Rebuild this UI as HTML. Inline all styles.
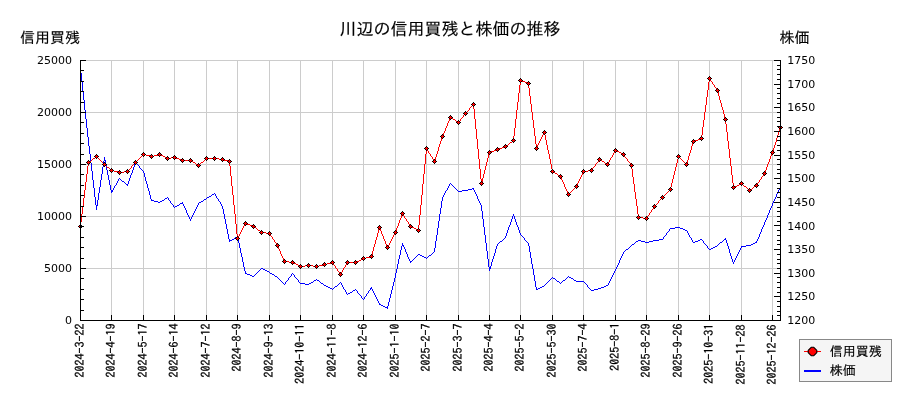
<!DOCTYPE html>
<html lang="ja"><head><meta charset="utf-8"><title>川辺の信用買残と株価の推移</title>
<style>html,body{margin:0;padding:0;background:#fff}svg{display:block}.jp{font-family:"Liberation Sans","IPAGothic","Noto Sans CJK JP",sans-serif;fill:#000;stroke:#000;stroke-width:.15px}.num{font-family:"DejaVu Sans","Liberation Sans",sans-serif;font-size:11px;fill:#000}.xl{font-family:"IPAGothic","Liberation Mono",monospace;font-size:12px;fill:#000;stroke:#000;stroke-width:.25px}</style></head><body>
<svg width="900" height="400" viewBox="0 0 900 400">
<rect x="0" y="0" width="900" height="400" fill="#ffffff"/>
<g stroke="#cccccc" stroke-width="1" shape-rendering="crispEdges">
<line x1="111.5" y1="60" x2="111.5" y2="320"/>
<line x1="143.5" y1="60" x2="143.5" y2="320"/>
<line x1="174.5" y1="60" x2="174.5" y2="320"/>
<line x1="206.5" y1="60" x2="206.5" y2="320"/>
<line x1="237.5" y1="60" x2="237.5" y2="320"/>
<line x1="269.5" y1="60" x2="269.5" y2="320"/>
<line x1="300.5" y1="60" x2="300.5" y2="320"/>
<line x1="332.5" y1="60" x2="332.5" y2="320"/>
<line x1="363.5" y1="60" x2="363.5" y2="320"/>
<line x1="395.5" y1="60" x2="395.5" y2="320"/>
<line x1="426.5" y1="60" x2="426.5" y2="320"/>
<line x1="458.5" y1="60" x2="458.5" y2="320"/>
<line x1="489.5" y1="60" x2="489.5" y2="320"/>
<line x1="520.5" y1="60" x2="520.5" y2="320"/>
<line x1="552.5" y1="60" x2="552.5" y2="320"/>
<line x1="583.5" y1="60" x2="583.5" y2="320"/>
<line x1="615.5" y1="60" x2="615.5" y2="320"/>
<line x1="646.5" y1="60" x2="646.5" y2="320"/>
<line x1="678.5" y1="60" x2="678.5" y2="320"/>
<line x1="709.5" y1="60" x2="709.5" y2="320"/>
<line x1="741.5" y1="60" x2="741.5" y2="320"/>
<line x1="772.5" y1="60" x2="772.5" y2="320"/>
<line x1="80" y1="60.5" x2="780" y2="60.5"/>
<line x1="80" y1="112.5" x2="780" y2="112.5"/>
<line x1="80" y1="164.5" x2="780" y2="164.5"/>
<line x1="80" y1="216.5" x2="780" y2="216.5"/>
<line x1="80" y1="268.5" x2="780" y2="268.5"/>
</g>
<path fill="#0000ff" shape-rendering="crispEdges" d="M80 68h1v5h-1zM81 73h1v9h-1zM82 82h1v9h-1zM83 91h1v9h-1zM84 100h1v10h-1zM85 110h1v9h-1zM86 119h1v9h-1zM87 128h1v9h-1zM88 137h1v9h-1zM89 146h1v8h-1zM90 154h1v9h-1zM91 163h1v8h-1zM92 171h1v9h-1zM93 180h1v8h-1zM94 188h1v9h-1zM95 197h1v8h-1zM96 205h1v5h-1zM97 200h1v6h-1zM98 193h1v7h-1zM99 187h1v6h-1zM100 180h1v7h-1zM101 174h1v6h-1zM102 167h1v7h-1zM103 161h1v6h-1zM104 157h1v4h-1zM105 160h1v5h-1zM106 165h1v5h-1zM107 170h1v5h-1zM108 175h1v5h-1zM109 180h1v5h-1zM110 185h1v5h-1zM111 190h1v3h-1zM112 190h1v2h-1zM113 188h1v2h-1zM114 186h1v2h-1zM116 183h1v2h-1zM117 181h1v2h-1zM118 179h1v2h-1zM127 184h1v2h-1zM128 181h1v3h-1zM129 178h1v3h-1zM130 175h1v3h-1zM131 173h1v2h-1zM132 170h1v3h-1zM133 167h1v3h-1zM134 164h1v3h-1zM135 162h1v2h-1zM139 166h1v2h-1zM143 171h1v2h-1zM144 173h1v4h-1zM145 177h1v4h-1zM146 181h1v3h-1zM147 184h1v4h-1zM148 188h1v3h-1zM149 191h1v4h-1zM150 195h1v4h-1zM151 199h1v2h-1zM168 198h1v2h-1zM170 201h1v2h-1zM173 205h1v2h-1zM182 202h1v2h-1zM183 204h1v2h-1zM184 206h1v2h-1zM185 208h1v2h-1zM186 210h1v3h-1zM187 213h1v2h-1zM188 215h1v2h-1zM189 217h1v2h-1zM190 219h1v2h-1zM191 217h1v2h-1zM192 215h1v2h-1zM193 213h1v2h-1zM194 211h1v2h-1zM195 209h1v2h-1zM196 207h1v2h-1zM197 205h1v2h-1zM198 203h1v2h-1zM215 194h1v2h-1zM216 196h1v2h-1zM218 199h1v2h-1zM220 202h1v2h-1zM221 204h1v2h-1zM222 206h1v3h-1zM223 209h1v5h-1zM224 214h1v5h-1zM225 219h1v5h-1zM226 224h1v5h-1zM227 229h1v5h-1zM228 234h1v5h-1zM229 239h1v3h-1zM237 236h1v3h-1zM238 239h1v4h-1zM239 243h1v5h-1zM240 248h1v5h-1zM241 253h1v4h-1zM242 257h1v5h-1zM243 262h1v5h-1zM244 267h1v4h-1zM245 271h1v3h-1zM285 282h1v2h-1zM288 278h1v2h-1zM291 274h1v2h-1zM294 275h1v2h-1zM298 280h1v2h-1zM341 283h1v2h-1zM342 285h1v2h-1zM343 287h1v2h-1zM345 290h1v2h-1zM346 292h1v2h-1zM357 291h1v2h-1zM361 296h1v2h-1zM364 297h1v2h-1zM366 294h1v2h-1zM368 291h1v2h-1zM370 288h1v2h-1zM371 287h1v2h-1zM372 289h1v2h-1zM373 291h1v2h-1zM374 293h1v2h-1zM375 295h1v2h-1zM376 297h1v2h-1zM377 299h1v2h-1zM378 301h1v2h-1zM379 303h1v2h-1zM387 306h1v3h-1zM388 302h1v4h-1zM389 298h1v4h-1zM390 294h1v4h-1zM391 290h1v4h-1zM392 286h1v4h-1zM393 282h1v4h-1zM394 278h1v4h-1zM395 273h1v5h-1zM396 269h1v4h-1zM397 264h1v5h-1zM398 259h1v5h-1zM399 255h1v4h-1zM400 250h1v5h-1zM401 246h1v4h-1zM402 243h1v3h-1zM403 245h1v2h-1zM404 247h1v2h-1zM405 249h1v3h-1zM406 252h1v2h-1zM407 254h1v3h-1zM408 257h1v2h-1zM409 259h1v2h-1zM410 261h1v2h-1zM434 248h1v4h-1zM435 241h1v7h-1zM436 235h1v6h-1zM437 228h1v7h-1zM438 221h1v7h-1zM439 214h1v7h-1zM440 208h1v6h-1zM441 201h1v7h-1zM442 197h1v4h-1zM443 195h1v2h-1zM444 193h1v2h-1zM445 191h1v2h-1zM447 188h1v2h-1zM448 186h1v2h-1zM449 184h1v2h-1zM473 188h1v2h-1zM474 190h1v2h-1zM475 192h1v2h-1zM476 194h1v2h-1zM477 196h1v3h-1zM478 199h1v2h-1zM479 201h1v2h-1zM480 203h1v2h-1zM481 205h1v6h-1zM482 211h1v8h-1zM483 219h1v8h-1zM484 227h1v8h-1zM485 235h1v8h-1zM486 243h1v8h-1zM487 251h1v8h-1zM488 259h1v8h-1zM489 267h1v4h-1zM490 266h1v3h-1zM491 262h1v4h-1zM492 259h1v3h-1zM493 256h1v3h-1zM494 253h1v3h-1zM495 249h1v4h-1zM496 246h1v3h-1zM497 244h1v2h-1zM505 236h1v2h-1zM506 233h1v3h-1zM507 230h1v3h-1zM508 227h1v3h-1zM509 225h1v2h-1zM510 222h1v3h-1zM511 219h1v3h-1zM512 216h1v3h-1zM513 214h1v2h-1zM514 216h1v3h-1zM515 219h1v3h-1zM516 222h1v3h-1zM517 225h1v2h-1zM518 227h1v3h-1zM519 230h1v3h-1zM520 233h1v2h-1zM524 238h1v2h-1zM528 243h1v3h-1zM529 246h1v6h-1zM530 252h1v6h-1zM531 258h1v6h-1zM532 264h1v5h-1zM533 269h1v6h-1zM534 275h1v6h-1zM535 281h1v6h-1zM536 287h1v3h-1zM587 285h1v2h-1zM608 283h1v2h-1zM609 281h1v2h-1zM610 279h1v2h-1zM611 277h1v2h-1zM612 275h1v2h-1zM613 273h1v2h-1zM614 271h1v2h-1zM615 269h1v2h-1zM616 267h1v2h-1zM617 265h1v2h-1zM618 263h1v2h-1zM619 260h1v3h-1zM620 258h1v2h-1zM621 256h1v2h-1zM622 254h1v2h-1zM623 252h1v2h-1zM663 237h1v2h-1zM666 233h1v2h-1zM669 229h1v2h-1zM687 231h1v2h-1zM688 233h1v2h-1zM689 235h1v2h-1zM691 238h1v2h-1zM692 240h1v2h-1zM703 241h1v2h-1zM707 246h1v2h-1zM725 238h1v2h-1zM726 240h1v3h-1zM727 243h1v3h-1zM728 246h1v3h-1zM729 249h1v4h-1zM730 253h1v3h-1zM731 256h1v3h-1zM732 259h1v3h-1zM733 262h1v2h-1zM734 260h1v2h-1zM735 258h1v2h-1zM736 256h1v2h-1zM737 254h1v2h-1zM738 252h1v2h-1zM739 250h1v2h-1zM740 248h1v2h-1zM741 246h1v2h-1zM756 241h1v2h-1zM757 239h1v2h-1zM758 237h1v2h-1zM759 234h1v3h-1zM760 232h1v2h-1zM761 229h1v3h-1zM762 227h1v2h-1zM763 225h1v2h-1zM764 222h1v3h-1zM765 220h1v2h-1zM766 218h1v2h-1zM767 215h1v3h-1zM768 213h1v2h-1zM769 210h1v3h-1zM770 208h1v2h-1zM771 206h1v2h-1zM772 203h1v3h-1zM773 201h1v2h-1zM774 199h1v2h-1zM775 197h1v2h-1zM776 194h1v3h-1zM777 192h1v2h-1zM778 190h1v2h-1zM779 188h1v2h-1zM780 186h1v2h-1zM136 163h1v1h-1zM137 164h1v1h-1zM138 165h1v1h-1zM140 168h1v1h-1zM141 169h1v1h-1zM142 170h1v1h-1zM119 178h1v1h-1zM120 179h1v1h-1zM121 180h1v1h-1zM122 181h2v1h-2zM124 182h1v1h-1zM125 183h1v1h-1zM450 183h1v1h-1zM126 184h1v1h-1zM451 184h1v1h-1zM115 185h1v1h-1zM452 185h1v1h-1zM453 186h1v1h-1zM454 187h1v1h-1zM455 188h1v1h-1zM472 188h1v1h-1zM456 189h1v1h-1zM468 189h4v1h-4zM446 190h1v1h-1zM457 190h1v1h-1zM462 190h6v1h-6zM458 191h4v1h-4zM214 193h1v1h-1zM212 194h2v1h-2zM211 195h1v1h-1zM209 196h2v1h-2zM167 197h1v1h-1zM207 197h2v1h-2zM165 198h2v1h-2zM206 198h1v1h-1zM217 198h1v1h-1zM164 199h1v1h-1zM204 199h2v1h-2zM152 200h2v1h-2zM162 200h2v1h-2zM169 200h1v1h-1zM203 200h1v1h-1zM154 201h4v1h-4zM160 201h2v1h-2zM201 201h2v1h-2zM219 201h1v1h-1zM158 202h2v1h-2zM199 202h2v1h-2zM171 203h1v1h-1zM180 203h2v1h-2zM172 204h1v1h-1zM179 204h1v1h-1zM177 205h2v1h-2zM175 206h2v1h-2zM174 207h1v1h-1zM675 227h5v1h-5zM670 228h5v1h-5zM680 228h3v1h-3zM683 229h2v1h-2zM685 230h2v1h-2zM668 231h1v1h-1zM667 232h1v1h-1zM521 235h1v1h-1zM665 235h1v1h-1zM522 236h1v1h-1zM664 236h1v1h-1zM235 237h2v1h-2zM523 237h1v1h-1zM690 237h1v1h-1zM234 238h1v1h-1zM504 238h1v1h-1zM232 239h2v1h-2zM503 239h1v1h-1zM659 239h4v1h-4zM700 239h2v1h-2zM724 239h1v1h-1zM230 240h2v1h-2zM502 240h1v1h-1zM525 240h1v1h-1zM638 240h3v1h-3zM653 240h6v1h-6zM698 240h2v1h-2zM702 240h1v1h-1zM723 240h1v1h-1zM500 241h2v1h-2zM526 241h1v1h-1zM636 241h2v1h-2zM641 241h4v1h-4zM649 241h4v1h-4zM695 241h3v1h-3zM722 241h1v1h-1zM499 242h1v1h-1zM527 242h1v1h-1zM635 242h1v1h-1zM645 242h4v1h-4zM693 242h2v1h-2zM720 242h2v1h-2zM755 242h1v1h-1zM498 243h1v1h-1zM634 243h1v1h-1zM704 243h1v1h-1zM719 243h1v1h-1zM753 243h2v1h-2zM632 244h2v1h-2zM705 244h1v1h-1zM718 244h1v1h-1zM751 244h2v1h-2zM631 245h1v1h-1zM706 245h1v1h-1zM717 245h1v1h-1zM746 245h5v1h-5zM630 246h1v1h-1zM715 246h2v1h-2zM742 246h4v1h-4zM629 247h1v1h-1zM713 247h2v1h-2zM628 248h1v1h-1zM708 248h1v1h-1zM711 248h2v1h-2zM626 249h2v1h-2zM709 249h2v1h-2zM625 250h1v1h-1zM624 251h1v1h-1zM433 252h1v1h-1zM432 253h1v1h-1zM418 254h2v1h-2zM431 254h1v1h-1zM417 255h1v1h-1zM420 255h2v1h-2zM429 255h2v1h-2zM416 256h1v1h-1zM422 256h2v1h-2zM428 256h1v1h-1zM415 257h1v1h-1zM424 257h2v1h-2zM427 257h1v1h-1zM414 258h1v1h-1zM426 258h1v1h-1zM413 259h1v1h-1zM412 260h1v1h-1zM411 261h1v1h-1zM261 268h2v1h-2zM260 269h1v1h-1zM263 269h2v1h-2zM259 270h1v1h-1zM265 270h2v1h-2zM258 271h1v1h-1zM267 271h2v1h-2zM257 272h1v1h-1zM269 272h1v1h-1zM246 273h1v1h-1zM256 273h1v1h-1zM270 273h2v1h-2zM292 273h1v1h-1zM247 274h3v1h-3zM255 274h1v1h-1zM272 274h2v1h-2zM293 274h1v1h-1zM250 275h2v1h-2zM254 275h1v1h-1zM274 275h1v1h-1zM252 276h2v1h-2zM275 276h2v1h-2zM290 276h1v1h-1zM568 276h1v1h-1zM277 277h1v1h-1zM289 277h1v1h-1zM295 277h1v1h-1zM552 277h1v1h-1zM567 277h1v1h-1zM569 277h2v1h-2zM278 278h1v1h-1zM296 278h1v1h-1zM551 278h1v1h-1zM553 278h2v1h-2zM566 278h1v1h-1zM571 278h2v1h-2zM279 279h1v1h-1zM297 279h1v1h-1zM316 279h1v1h-1zM550 279h1v1h-1zM555 279h1v1h-1zM565 279h1v1h-1zM573 279h1v1h-1zM280 280h1v1h-1zM287 280h1v1h-1zM314 280h2v1h-2zM317 280h2v1h-2zM549 280h1v1h-1zM556 280h1v1h-1zM563 280h2v1h-2zM574 280h2v1h-2zM281 281h1v1h-1zM286 281h1v1h-1zM313 281h1v1h-1zM319 281h1v1h-1zM548 281h1v1h-1zM557 281h2v1h-2zM562 281h1v1h-1zM576 281h8v1h-8zM282 282h1v1h-1zM299 282h1v1h-1zM311 282h2v1h-2zM320 282h1v1h-1zM340 282h1v1h-1zM547 282h1v1h-1zM559 282h1v1h-1zM561 282h1v1h-1zM584 282h1v1h-1zM283 283h1v1h-1zM300 283h5v1h-5zM309 283h2v1h-2zM321 283h2v1h-2zM339 283h1v1h-1zM546 283h1v1h-1zM560 283h1v1h-1zM585 283h1v1h-1zM284 284h1v1h-1zM305 284h4v1h-4zM323 284h1v1h-1zM338 284h1v1h-1zM545 284h1v1h-1zM586 284h1v1h-1zM324 285h2v1h-2zM337 285h1v1h-1zM544 285h1v1h-1zM606 285h2v1h-2zM326 286h2v1h-2zM335 286h2v1h-2zM542 286h2v1h-2zM604 286h2v1h-2zM328 287h2v1h-2zM334 287h1v1h-1zM540 287h2v1h-2zM588 287h1v1h-1zM601 287h3v1h-3zM330 288h2v1h-2zM333 288h1v1h-1zM538 288h2v1h-2zM589 288h1v1h-1zM598 288h3v1h-3zM332 289h1v1h-1zM344 289h1v1h-1zM355 289h1v1h-1zM537 289h1v1h-1zM590 289h1v1h-1zM594 289h4v1h-4zM353 290h2v1h-2zM356 290h1v1h-1zM369 290h1v1h-1zM591 290h3v1h-3zM352 291h1v1h-1zM350 292h2v1h-2zM348 293h2v1h-2zM358 293h1v1h-1zM367 293h1v1h-1zM347 294h1v1h-1zM359 294h1v1h-1zM360 295h1v1h-1zM365 296h1v1h-1zM362 298h1v1h-1zM363 299h1v1h-1zM380 304h1v1h-1zM381 305h2v1h-2zM383 306h2v1h-2zM385 307h2v1h-2z"/>
<path fill="#ff0000" shape-rendering="crispEdges" d="M80 222h1v5h-1zM81 214h1v8h-1zM82 206h1v8h-1zM83 198h1v8h-1zM84 190h1v8h-1zM85 182h1v8h-1zM86 174h1v8h-1zM87 166h1v8h-1zM88 162h1v4h-1zM131 166h1v2h-1zM229 161h1v5h-1zM230 166h1v10h-1zM231 176h1v10h-1zM232 186h1v9h-1zM233 195h1v10h-1zM234 205h1v9h-1zM235 214h1v10h-1zM236 224h1v10h-1zM237 234h1v5h-1zM238 236h1v2h-1zM239 234h1v2h-1zM240 232h1v2h-1zM241 230h1v2h-1zM242 228h1v2h-1zM243 226h1v2h-1zM244 224h1v2h-1zM270 234h1v2h-1zM272 237h1v2h-1zM274 240h1v2h-1zM276 243h1v2h-1zM277 245h1v2h-1zM278 247h1v2h-1zM279 249h1v2h-1zM280 251h1v3h-1zM281 254h1v2h-1zM282 256h1v2h-1zM283 258h1v2h-1zM284 260h1v2h-1zM333 263h1v2h-1zM335 266h1v2h-1zM337 269h1v2h-1zM339 272h1v2h-1zM341 272h1v2h-1zM342 270h1v2h-1zM343 268h1v2h-1zM345 265h1v2h-1zM346 263h1v2h-1zM371 255h1v2h-1zM372 251h1v4h-1zM373 247h1v4h-1zM374 244h1v3h-1zM375 240h1v4h-1zM376 237h1v3h-1zM377 233h1v4h-1zM378 229h1v4h-1zM379 227h1v2h-1zM380 229h1v2h-1zM381 231h1v3h-1zM382 234h1v2h-1zM383 236h1v3h-1zM384 239h1v2h-1zM385 241h1v3h-1zM386 244h1v2h-1zM387 246h1v2h-1zM388 245h1v2h-1zM389 243h1v2h-1zM390 241h1v2h-1zM391 239h1v2h-1zM392 237h1v2h-1zM393 235h1v2h-1zM394 233h1v2h-1zM395 231h1v2h-1zM396 228h1v3h-1zM397 226h1v2h-1zM398 223h1v3h-1zM399 220h1v3h-1zM400 218h1v2h-1zM401 215h1v3h-1zM402 213h1v2h-1zM403 214h1v2h-1zM404 216h1v2h-1zM406 219h1v2h-1zM408 222h1v2h-1zM409 224h1v2h-1zM418 225h1v6h-1zM419 215h1v10h-1zM420 205h1v10h-1zM421 195h1v10h-1zM422 184h1v11h-1zM423 174h1v10h-1zM424 164h1v10h-1zM425 154h1v10h-1zM426 148h1v6h-1zM427 149h1v2h-1zM428 151h1v2h-1zM430 154h1v2h-1zM432 157h1v2h-1zM433 159h1v2h-1zM434 160h1v2h-1zM435 157h1v3h-1zM436 154h1v3h-1zM437 151h1v3h-1zM438 147h1v4h-1zM439 144h1v3h-1zM440 141h1v3h-1zM441 138h1v3h-1zM442 135h1v3h-1zM443 133h1v2h-1zM444 131h1v2h-1zM445 128h1v3h-1zM446 126h1v2h-1zM447 123h1v3h-1zM448 121h1v2h-1zM449 119h1v2h-1zM450 117h1v2h-1zM460 119h1v2h-1zM463 115h1v2h-1zM469 108h1v2h-1zM473 104h1v5h-1zM474 109h1v10h-1zM475 119h1v10h-1zM476 129h1v10h-1zM477 139h1v10h-1zM478 149h1v10h-1zM479 159h1v10h-1zM480 169h1v10h-1zM481 179h1v5h-1zM482 178h1v4h-1zM483 174h1v4h-1zM484 170h1v4h-1zM485 166h1v4h-1zM486 162h1v4h-1zM487 158h1v4h-1zM488 154h1v4h-1zM489 152h1v2h-1zM513 136h1v5h-1zM514 128h1v8h-1zM515 119h1v9h-1zM516 110h1v9h-1zM517 102h1v8h-1zM518 93h1v9h-1zM519 85h1v8h-1zM520 80h1v5h-1zM528 83h1v5h-1zM529 88h1v8h-1zM530 96h1v8h-1zM531 104h1v8h-1zM532 112h1v8h-1zM533 120h1v8h-1zM534 128h1v8h-1zM535 136h1v8h-1zM536 144h1v5h-1zM537 145h1v2h-1zM538 143h1v2h-1zM539 141h1v2h-1zM540 139h1v2h-1zM541 137h1v2h-1zM542 135h1v2h-1zM543 133h1v2h-1zM544 132h1v3h-1zM545 135h1v5h-1zM546 140h1v5h-1zM547 145h1v5h-1zM548 150h1v4h-1zM549 154h1v5h-1zM550 159h1v5h-1zM551 164h1v5h-1zM552 169h1v3h-1zM560 176h1v2h-1zM561 178h1v2h-1zM562 180h1v2h-1zM563 182h1v2h-1zM564 184h1v3h-1zM565 187h1v2h-1zM566 189h1v2h-1zM567 191h1v2h-1zM568 193h1v2h-1zM576 185h1v2h-1zM577 183h1v2h-1zM578 181h1v2h-1zM579 179h1v2h-1zM580 177h1v2h-1zM581 175h1v2h-1zM582 173h1v2h-1zM583 171h1v2h-1zM592 168h1v2h-1zM595 164h1v2h-1zM598 160h1v2h-1zM608 162h1v2h-1zM609 160h1v2h-1zM610 158h1v2h-1zM612 155h1v2h-1zM613 153h1v2h-1zM614 151h1v2h-1zM624 155h1v2h-1zM627 159h1v2h-1zM630 163h1v2h-1zM631 165h1v4h-1zM632 169h1v8h-1zM633 177h1v7h-1zM634 184h1v8h-1zM635 192h1v7h-1zM636 199h1v7h-1zM637 206h1v8h-1zM638 214h1v4h-1zM647 216h1v2h-1zM649 213h1v2h-1zM651 210h1v2h-1zM653 207h1v2h-1zM658 201h1v2h-1zM670 187h1v3h-1zM671 183h1v4h-1zM672 179h1v4h-1zM673 175h1v4h-1zM674 171h1v4h-1zM675 167h1v4h-1zM676 163h1v4h-1zM677 159h1v4h-1zM678 156h1v3h-1zM686 163h1v2h-1zM687 160h1v3h-1zM688 156h1v4h-1zM689 153h1v3h-1zM690 150h1v3h-1zM691 146h1v4h-1zM692 143h1v3h-1zM693 141h1v2h-1zM701 135h1v4h-1zM702 127h1v8h-1zM703 120h1v7h-1zM704 112h1v8h-1zM705 105h1v7h-1zM706 97h1v8h-1zM707 90h1v7h-1zM708 82h1v8h-1zM709 78h1v4h-1zM710 79h1v2h-1zM712 82h1v2h-1zM714 85h1v2h-1zM716 88h1v2h-1zM717 90h1v2h-1zM718 92h1v4h-1zM719 96h1v4h-1zM720 100h1v3h-1zM721 103h1v4h-1zM722 107h1v3h-1zM723 110h1v4h-1zM724 114h1v4h-1zM725 118h1v6h-1zM726 124h1v8h-1zM727 132h1v9h-1zM728 141h1v8h-1zM729 149h1v9h-1zM730 158h1v8h-1zM731 166h1v9h-1zM732 175h1v8h-1zM733 183h1v5h-1zM757 183h1v2h-1zM759 180h1v2h-1zM761 177h1v2h-1zM763 174h1v2h-1zM764 172h1v2h-1zM765 170h1v2h-1zM766 167h1v3h-1zM767 164h1v3h-1zM768 162h1v2h-1zM769 159h1v3h-1zM770 156h1v3h-1zM771 154h1v2h-1zM772 151h1v3h-1zM773 148h1v3h-1zM774 145h1v3h-1zM775 142h1v3h-1zM776 138h1v4h-1zM777 135h1v3h-1zM778 132h1v3h-1zM779 129h1v3h-1zM780 127h1v2h-1zM521 80h1v1h-1zM522 81h3v1h-3zM711 81h1v1h-1zM525 82h2v1h-2zM527 83h1v1h-1zM713 84h1v1h-1zM715 87h1v1h-1zM472 105h1v1h-1zM471 106h1v1h-1zM470 107h1v1h-1zM468 110h1v1h-1zM467 111h1v1h-1zM466 112h1v1h-1zM465 113h1v1h-1zM464 114h1v1h-1zM462 117h1v1h-1zM451 118h2v1h-2zM461 118h1v1h-1zM453 119h2v1h-2zM455 120h1v1h-1zM456 121h2v1h-2zM459 121h1v1h-1zM458 122h1v1h-1zM700 138h1v1h-1zM698 139h2v1h-2zM695 140h3v1h-3zM512 141h1v1h-1zM694 141h1v1h-1zM510 142h2v1h-2zM509 143h1v1h-1zM508 144h1v1h-1zM506 145h2v1h-2zM504 146h2v1h-2zM502 147h2v1h-2zM499 148h3v1h-3zM496 149h3v1h-3zM494 150h2v1h-2zM615 150h2v1h-2zM491 151h3v1h-3zM617 151h2v1h-2zM490 152h1v1h-1zM619 152h2v1h-2zM429 153h1v1h-1zM621 153h2v1h-2zM143 154h3v1h-3zM158 154h3v1h-3zM623 154h1v1h-1zM142 155h1v1h-1zM146 155h4v1h-4zM154 155h4v1h-4zM161 155h2v1h-2zM96 156h1v1h-1zM141 156h1v1h-1zM150 156h4v1h-4zM163 156h2v1h-2zM431 156h1v1h-1zM95 157h1v1h-1zM97 157h1v1h-1zM140 157h1v1h-1zM165 157h2v1h-2zM171 157h5v1h-5zM611 157h1v1h-1zM625 157h1v1h-1zM679 157h1v1h-1zM93 158h2v1h-2zM98 158h1v1h-1zM139 158h1v1h-1zM167 158h4v1h-4zM176 158h3v1h-3zM206 158h13v1h-13zM626 158h1v1h-1zM680 158h1v1h-1zM92 159h1v1h-1zM99 159h1v1h-1zM138 159h1v1h-1zM179 159h2v1h-2zM205 159h1v1h-1zM219 159h5v1h-5zM599 159h1v1h-1zM681 159h1v1h-1zM91 160h1v1h-1zM100 160h1v1h-1zM137 160h1v1h-1zM181 160h10v1h-10zM204 160h1v1h-1zM224 160h4v1h-4zM600 160h2v1h-2zM682 160h1v1h-1zM89 161h2v1h-2zM101 161h1v1h-1zM136 161h1v1h-1zM191 161h2v1h-2zM203 161h1v1h-1zM228 161h1v1h-1zM602 161h2v1h-2zM628 161h1v1h-1zM683 161h1v1h-1zM102 162h1v1h-1zM135 162h1v1h-1zM193 162h2v1h-2zM201 162h2v1h-2zM597 162h1v1h-1zM604 162h1v1h-1zM629 162h1v1h-1zM684 162h1v1h-1zM103 163h1v1h-1zM134 163h1v1h-1zM195 163h1v1h-1zM200 163h1v1h-1zM596 163h1v1h-1zM605 163h2v1h-2zM685 163h1v1h-1zM104 164h1v1h-1zM133 164h1v1h-1zM196 164h2v1h-2zM199 164h1v1h-1zM607 164h1v1h-1zM105 165h1v1h-1zM132 165h1v1h-1zM198 165h1v1h-1zM106 166h1v1h-1zM594 166h1v1h-1zM107 167h2v1h-2zM593 167h1v1h-1zM109 168h1v1h-1zM130 168h1v1h-1zM110 169h1v1h-1zM129 169h1v1h-1zM111 170h3v1h-3zM128 170h1v1h-1zM588 170h4v1h-4zM114 171h4v1h-4zM124 171h4v1h-4zM584 171h4v1h-4zM118 172h6v1h-6zM553 172h2v1h-2zM555 173h2v1h-2zM557 174h1v1h-1zM558 175h2v1h-2zM762 176h1v1h-1zM760 179h1v1h-1zM758 182h1v1h-1zM741 183h1v1h-1zM739 184h2v1h-2zM742 184h1v1h-1zM737 185h2v1h-2zM743 185h1v1h-1zM756 185h1v1h-1zM735 186h2v1h-2zM744 186h2v1h-2zM754 186h2v1h-2zM575 187h1v1h-1zM734 187h1v1h-1zM746 187h1v1h-1zM753 187h1v1h-1zM574 188h1v1h-1zM747 188h1v1h-1zM752 188h1v1h-1zM573 189h1v1h-1zM748 189h1v1h-1zM750 189h2v1h-2zM572 190h1v1h-1zM669 190h1v1h-1zM749 190h1v1h-1zM571 191h1v1h-1zM668 191h1v1h-1zM570 192h1v1h-1zM667 192h1v1h-1zM569 193h1v1h-1zM666 193h1v1h-1zM665 194h1v1h-1zM664 195h1v1h-1zM663 196h1v1h-1zM662 197h1v1h-1zM661 198h1v1h-1zM660 199h1v1h-1zM659 200h1v1h-1zM657 203h1v1h-1zM656 204h1v1h-1zM655 205h1v1h-1zM654 206h1v1h-1zM652 209h1v1h-1zM650 212h1v1h-1zM648 215h1v1h-1zM639 217h4v1h-4zM405 218h1v1h-1zM643 218h4v1h-4zM407 221h1v1h-1zM245 223h2v1h-2zM247 224h3v1h-3zM250 225h2v1h-2zM252 226h2v1h-2zM410 226h2v1h-2zM254 227h2v1h-2zM412 227h2v1h-2zM256 228h1v1h-1zM414 228h2v1h-2zM257 229h1v1h-1zM416 229h2v1h-2zM258 230h2v1h-2zM260 231h1v1h-1zM261 232h5v1h-5zM266 233h4v1h-4zM271 236h1v1h-1zM273 239h1v1h-1zM275 242h1v1h-1zM370 256h1v1h-1zM366 257h4v1h-4zM363 258h3v1h-3zM361 259h2v1h-2zM359 260h2v1h-2zM285 261h4v1h-4zM357 261h2v1h-2zM289 262h5v1h-5zM331 262h2v1h-2zM347 262h10v1h-10zM294 263h2v1h-2zM327 263h4v1h-4zM296 264h2v1h-2zM323 264h4v1h-4zM298 265h2v1h-2zM305 265h8v1h-8zM319 265h4v1h-4zM334 265h1v1h-1zM300 266h5v1h-5zM313 266h6v1h-6zM344 267h1v1h-1zM336 268h1v1h-1zM338 271h1v1h-1zM340 274h1v1h-1z"/>
<path fill="#000000" shape-rendering="crispEdges" d="M80 224h1v1h-1zM79 225h3v1h-3zM78 226h5v1h-5zM79 227h3v1h-3zM80 228h1v1h-1zM88 160h1v1h-1zM87 161h3v1h-3zM86 162h5v1h-5zM87 163h3v1h-3zM88 164h1v1h-1zM96 154h1v1h-1zM95 155h3v1h-3zM94 156h5v1h-5zM95 157h3v1h-3zM96 158h1v1h-1zM104 162h1v1h-1zM103 163h3v1h-3zM102 164h5v1h-5zM103 165h3v1h-3zM104 166h1v1h-1zM111 168h1v1h-1zM110 169h3v1h-3zM109 170h5v1h-5zM110 171h3v1h-3zM111 172h1v1h-1zM119 170h1v1h-1zM118 171h3v1h-3zM117 172h5v1h-5zM118 173h3v1h-3zM119 174h1v1h-1zM127 169h1v1h-1zM126 170h3v1h-3zM125 171h5v1h-5zM126 172h3v1h-3zM127 173h1v1h-1zM135 160h1v1h-1zM134 161h3v1h-3zM133 162h5v1h-5zM134 163h3v1h-3zM135 164h1v1h-1zM143 152h1v1h-1zM142 153h3v1h-3zM141 154h5v1h-5zM142 155h3v1h-3zM143 156h1v1h-1zM151 154h1v1h-1zM150 155h3v1h-3zM149 156h5v1h-5zM150 157h3v1h-3zM151 158h1v1h-1zM159 152h1v1h-1zM158 153h3v1h-3zM157 154h5v1h-5zM158 155h3v1h-3zM159 156h1v1h-1zM167 156h1v1h-1zM166 157h3v1h-3zM165 158h5v1h-5zM166 159h3v1h-3zM167 160h1v1h-1zM174 155h1v1h-1zM173 156h3v1h-3zM172 157h5v1h-5zM173 158h3v1h-3zM174 159h1v1h-1zM182 158h1v1h-1zM181 159h3v1h-3zM180 160h5v1h-5zM181 161h3v1h-3zM182 162h1v1h-1zM190 158h1v1h-1zM189 159h3v1h-3zM188 160h5v1h-5zM189 161h3v1h-3zM190 162h1v1h-1zM198 163h1v1h-1zM197 164h3v1h-3zM196 165h5v1h-5zM197 166h3v1h-3zM198 167h1v1h-1zM206 156h1v1h-1zM205 157h3v1h-3zM204 158h5v1h-5zM205 159h3v1h-3zM206 160h1v1h-1zM214 156h1v1h-1zM213 157h3v1h-3zM212 158h5v1h-5zM213 159h3v1h-3zM214 160h1v1h-1zM222 157h1v1h-1zM221 158h3v1h-3zM220 159h5v1h-5zM221 160h3v1h-3zM222 161h1v1h-1zM229 159h1v1h-1zM228 160h3v1h-3zM227 161h5v1h-5zM228 162h3v1h-3zM229 163h1v1h-1zM237 236h1v1h-1zM236 237h3v1h-3zM235 238h5v1h-5zM236 239h3v1h-3zM237 240h1v1h-1zM245 221h1v1h-1zM244 222h3v1h-3zM243 223h5v1h-5zM244 224h3v1h-3zM245 225h1v1h-1zM253 224h1v1h-1zM252 225h3v1h-3zM251 226h5v1h-5zM252 227h3v1h-3zM253 228h1v1h-1zM261 230h1v1h-1zM260 231h3v1h-3zM259 232h5v1h-5zM260 233h3v1h-3zM261 234h1v1h-1zM269 231h1v1h-1zM268 232h3v1h-3zM267 233h5v1h-5zM268 234h3v1h-3zM269 235h1v1h-1zM277 243h1v1h-1zM276 244h3v1h-3zM275 245h5v1h-5zM276 246h3v1h-3zM277 247h1v1h-1zM284 259h1v1h-1zM283 260h3v1h-3zM282 261h5v1h-5zM283 262h3v1h-3zM284 263h1v1h-1zM292 260h1v1h-1zM291 261h3v1h-3zM290 262h5v1h-5zM291 263h3v1h-3zM292 264h1v1h-1zM300 264h1v1h-1zM299 265h3v1h-3zM298 266h5v1h-5zM299 267h3v1h-3zM300 268h1v1h-1zM308 263h1v1h-1zM307 264h3v1h-3zM306 265h5v1h-5zM307 266h3v1h-3zM308 267h1v1h-1zM316 264h1v1h-1zM315 265h3v1h-3zM314 266h5v1h-5zM315 267h3v1h-3zM316 268h1v1h-1zM324 262h1v1h-1zM323 263h3v1h-3zM322 264h5v1h-5zM323 265h3v1h-3zM324 266h1v1h-1zM332 260h1v1h-1zM331 261h3v1h-3zM330 262h5v1h-5zM331 263h3v1h-3zM332 264h1v1h-1zM340 272h1v1h-1zM339 273h3v1h-3zM338 274h5v1h-5zM339 275h3v1h-3zM340 276h1v1h-1zM347 260h1v1h-1zM346 261h3v1h-3zM345 262h5v1h-5zM346 263h3v1h-3zM347 264h1v1h-1zM355 260h1v1h-1zM354 261h3v1h-3zM353 262h5v1h-5zM354 263h3v1h-3zM355 264h1v1h-1zM363 256h1v1h-1zM362 257h3v1h-3zM361 258h5v1h-5zM362 259h3v1h-3zM363 260h1v1h-1zM371 254h1v1h-1zM370 255h3v1h-3zM369 256h5v1h-5zM370 257h3v1h-3zM371 258h1v1h-1zM379 225h1v1h-1zM378 226h3v1h-3zM377 227h5v1h-5zM378 228h3v1h-3zM379 229h1v1h-1zM387 245h1v1h-1zM386 246h3v1h-3zM385 247h5v1h-5zM386 248h3v1h-3zM387 249h1v1h-1zM395 230h1v1h-1zM394 231h3v1h-3zM393 232h5v1h-5zM394 233h3v1h-3zM395 234h1v1h-1zM402 211h1v1h-1zM401 212h3v1h-3zM400 213h5v1h-5zM401 214h3v1h-3zM402 215h1v1h-1zM410 224h1v1h-1zM409 225h3v1h-3zM408 226h5v1h-5zM409 227h3v1h-3zM410 228h1v1h-1zM418 228h1v1h-1zM417 229h3v1h-3zM416 230h5v1h-5zM417 231h3v1h-3zM418 232h1v1h-1zM426 146h1v1h-1zM425 147h3v1h-3zM424 148h5v1h-5zM425 149h3v1h-3zM426 150h1v1h-1zM434 159h1v1h-1zM433 160h3v1h-3zM432 161h5v1h-5zM433 162h3v1h-3zM434 163h1v1h-1zM442 134h1v1h-1zM441 135h3v1h-3zM440 136h5v1h-5zM441 137h3v1h-3zM442 138h1v1h-1zM450 115h1v1h-1zM449 116h3v1h-3zM448 117h5v1h-5zM449 118h3v1h-3zM450 119h1v1h-1zM458 120h1v1h-1zM457 121h3v1h-3zM456 122h5v1h-5zM457 123h3v1h-3zM458 124h1v1h-1zM465 111h1v1h-1zM464 112h3v1h-3zM463 113h5v1h-5zM464 114h3v1h-3zM465 115h1v1h-1zM473 102h1v1h-1zM472 103h3v1h-3zM471 104h5v1h-5zM472 105h3v1h-3zM473 106h1v1h-1zM481 181h1v1h-1zM480 182h3v1h-3zM479 183h5v1h-5zM480 184h3v1h-3zM481 185h1v1h-1zM489 150h1v1h-1zM488 151h3v1h-3zM487 152h5v1h-5zM488 153h3v1h-3zM489 154h1v1h-1zM497 147h1v1h-1zM496 148h3v1h-3zM495 149h5v1h-5zM496 150h3v1h-3zM497 151h1v1h-1zM505 144h1v1h-1zM504 145h3v1h-3zM503 146h5v1h-5zM504 147h3v1h-3zM505 148h1v1h-1zM513 138h1v1h-1zM512 139h3v1h-3zM511 140h5v1h-5zM512 141h3v1h-3zM513 142h1v1h-1zM520 78h1v1h-1zM519 79h3v1h-3zM518 80h5v1h-5zM519 81h3v1h-3zM520 82h1v1h-1zM528 81h1v1h-1zM527 82h3v1h-3zM526 83h5v1h-5zM527 84h3v1h-3zM528 85h1v1h-1zM536 146h1v1h-1zM535 147h3v1h-3zM534 148h5v1h-5zM535 149h3v1h-3zM536 150h1v1h-1zM544 130h1v1h-1zM543 131h3v1h-3zM542 132h5v1h-5zM543 133h3v1h-3zM544 134h1v1h-1zM552 169h1v1h-1zM551 170h3v1h-3zM550 171h5v1h-5zM551 172h3v1h-3zM552 173h1v1h-1zM560 174h1v1h-1zM559 175h3v1h-3zM558 176h5v1h-5zM559 177h3v1h-3zM560 178h1v1h-1zM568 192h1v1h-1zM567 193h3v1h-3zM566 194h5v1h-5zM567 195h3v1h-3zM568 196h1v1h-1zM576 184h1v1h-1zM575 185h3v1h-3zM574 186h5v1h-5zM575 187h3v1h-3zM576 188h1v1h-1zM583 169h1v1h-1zM582 170h3v1h-3zM581 171h5v1h-5zM582 172h3v1h-3zM583 173h1v1h-1zM591 168h1v1h-1zM590 169h3v1h-3zM589 170h5v1h-5zM590 171h3v1h-3zM591 172h1v1h-1zM599 157h1v1h-1zM598 158h3v1h-3zM597 159h5v1h-5zM598 160h3v1h-3zM599 161h1v1h-1zM607 162h1v1h-1zM606 163h3v1h-3zM605 164h5v1h-5zM606 165h3v1h-3zM607 166h1v1h-1zM615 148h1v1h-1zM614 149h3v1h-3zM613 150h5v1h-5zM614 151h3v1h-3zM615 152h1v1h-1zM623 152h1v1h-1zM622 153h3v1h-3zM621 154h5v1h-5zM622 155h3v1h-3zM623 156h1v1h-1zM631 163h1v1h-1zM630 164h3v1h-3zM629 165h5v1h-5zM630 166h3v1h-3zM631 167h1v1h-1zM638 215h1v1h-1zM637 216h3v1h-3zM636 217h5v1h-5zM637 218h3v1h-3zM638 219h1v1h-1zM646 216h1v1h-1zM645 217h3v1h-3zM644 218h5v1h-5zM645 219h3v1h-3zM646 220h1v1h-1zM654 204h1v1h-1zM653 205h3v1h-3zM652 206h5v1h-5zM653 207h3v1h-3zM654 208h1v1h-1zM662 195h1v1h-1zM661 196h3v1h-3zM660 197h5v1h-5zM661 198h3v1h-3zM662 199h1v1h-1zM670 187h1v1h-1zM669 188h3v1h-3zM668 189h5v1h-5zM669 190h3v1h-3zM670 191h1v1h-1zM678 154h1v1h-1zM677 155h3v1h-3zM676 156h5v1h-5zM677 157h3v1h-3zM678 158h1v1h-1zM686 162h1v1h-1zM685 163h3v1h-3zM684 164h5v1h-5zM685 165h3v1h-3zM686 166h1v1h-1zM693 139h1v1h-1zM692 140h3v1h-3zM691 141h5v1h-5zM692 142h3v1h-3zM693 143h1v1h-1zM701 136h1v1h-1zM700 137h3v1h-3zM699 138h5v1h-5zM700 139h3v1h-3zM701 140h1v1h-1zM709 76h1v1h-1zM708 77h3v1h-3zM707 78h5v1h-5zM708 79h3v1h-3zM709 80h1v1h-1zM717 88h1v1h-1zM716 89h3v1h-3zM715 90h5v1h-5zM716 91h3v1h-3zM717 92h1v1h-1zM725 117h1v1h-1zM724 118h3v1h-3zM723 119h5v1h-5zM724 120h3v1h-3zM725 121h1v1h-1zM733 185h1v1h-1zM732 186h3v1h-3zM731 187h5v1h-5zM732 188h3v1h-3zM733 189h1v1h-1zM741 181h1v1h-1zM740 182h3v1h-3zM739 183h5v1h-5zM740 184h3v1h-3zM741 185h1v1h-1zM749 188h1v1h-1zM748 189h3v1h-3zM747 190h5v1h-5zM748 191h3v1h-3zM749 192h1v1h-1zM756 183h1v1h-1zM755 184h3v1h-3zM754 185h5v1h-5zM755 186h3v1h-3zM756 187h1v1h-1zM764 171h1v1h-1zM763 172h3v1h-3zM762 173h5v1h-5zM763 174h3v1h-3zM764 175h1v1h-1zM772 150h1v1h-1zM771 151h3v1h-3zM770 152h5v1h-5zM771 153h3v1h-3zM772 154h1v1h-1zM780 125h1v1h-1zM779 126h3v1h-3zM778 127h5v1h-5zM779 128h3v1h-3zM780 129h1v1h-1z"/>
<path fill="#ff0000" shape-rendering="crispEdges" d="M80 225h1v1h-1zM79 226h3v1h-3zM80 227h1v1h-1zM88 161h1v1h-1zM87 162h3v1h-3zM88 163h1v1h-1zM96 155h1v1h-1zM95 156h3v1h-3zM96 157h1v1h-1zM104 163h1v1h-1zM103 164h3v1h-3zM104 165h1v1h-1zM111 169h1v1h-1zM110 170h3v1h-3zM111 171h1v1h-1zM119 171h1v1h-1zM118 172h3v1h-3zM119 173h1v1h-1zM127 170h1v1h-1zM126 171h3v1h-3zM127 172h1v1h-1zM135 161h1v1h-1zM134 162h3v1h-3zM135 163h1v1h-1zM143 153h1v1h-1zM142 154h3v1h-3zM143 155h1v1h-1zM151 155h1v1h-1zM150 156h3v1h-3zM151 157h1v1h-1zM159 153h1v1h-1zM158 154h3v1h-3zM159 155h1v1h-1zM167 157h1v1h-1zM166 158h3v1h-3zM167 159h1v1h-1zM174 156h1v1h-1zM173 157h3v1h-3zM174 158h1v1h-1zM182 159h1v1h-1zM181 160h3v1h-3zM182 161h1v1h-1zM190 159h1v1h-1zM189 160h3v1h-3zM190 161h1v1h-1zM198 164h1v1h-1zM197 165h3v1h-3zM198 166h1v1h-1zM206 157h1v1h-1zM205 158h3v1h-3zM206 159h1v1h-1zM214 157h1v1h-1zM213 158h3v1h-3zM214 159h1v1h-1zM222 158h1v1h-1zM221 159h3v1h-3zM222 160h1v1h-1zM229 160h1v1h-1zM228 161h3v1h-3zM229 162h1v1h-1zM237 237h1v1h-1zM236 238h3v1h-3zM237 239h1v1h-1zM245 222h1v1h-1zM244 223h3v1h-3zM245 224h1v1h-1zM253 225h1v1h-1zM252 226h3v1h-3zM253 227h1v1h-1zM261 231h1v1h-1zM260 232h3v1h-3zM261 233h1v1h-1zM269 232h1v1h-1zM268 233h3v1h-3zM269 234h1v1h-1zM277 244h1v1h-1zM276 245h3v1h-3zM277 246h1v1h-1zM284 260h1v1h-1zM283 261h3v1h-3zM284 262h1v1h-1zM292 261h1v1h-1zM291 262h3v1h-3zM292 263h1v1h-1zM300 265h1v1h-1zM299 266h3v1h-3zM300 267h1v1h-1zM308 264h1v1h-1zM307 265h3v1h-3zM308 266h1v1h-1zM316 265h1v1h-1zM315 266h3v1h-3zM316 267h1v1h-1zM324 263h1v1h-1zM323 264h3v1h-3zM324 265h1v1h-1zM332 261h1v1h-1zM331 262h3v1h-3zM332 263h1v1h-1zM340 273h1v1h-1zM339 274h3v1h-3zM340 275h1v1h-1zM347 261h1v1h-1zM346 262h3v1h-3zM347 263h1v1h-1zM355 261h1v1h-1zM354 262h3v1h-3zM355 263h1v1h-1zM363 257h1v1h-1zM362 258h3v1h-3zM363 259h1v1h-1zM371 255h1v1h-1zM370 256h3v1h-3zM371 257h1v1h-1zM379 226h1v1h-1zM378 227h3v1h-3zM379 228h1v1h-1zM387 246h1v1h-1zM386 247h3v1h-3zM387 248h1v1h-1zM395 231h1v1h-1zM394 232h3v1h-3zM395 233h1v1h-1zM402 212h1v1h-1zM401 213h3v1h-3zM402 214h1v1h-1zM410 225h1v1h-1zM409 226h3v1h-3zM410 227h1v1h-1zM418 229h1v1h-1zM417 230h3v1h-3zM418 231h1v1h-1zM426 147h1v1h-1zM425 148h3v1h-3zM426 149h1v1h-1zM434 160h1v1h-1zM433 161h3v1h-3zM434 162h1v1h-1zM442 135h1v1h-1zM441 136h3v1h-3zM442 137h1v1h-1zM450 116h1v1h-1zM449 117h3v1h-3zM450 118h1v1h-1zM458 121h1v1h-1zM457 122h3v1h-3zM458 123h1v1h-1zM465 112h1v1h-1zM464 113h3v1h-3zM465 114h1v1h-1zM473 103h1v1h-1zM472 104h3v1h-3zM473 105h1v1h-1zM481 182h1v1h-1zM480 183h3v1h-3zM481 184h1v1h-1zM489 151h1v1h-1zM488 152h3v1h-3zM489 153h1v1h-1zM497 148h1v1h-1zM496 149h3v1h-3zM497 150h1v1h-1zM505 145h1v1h-1zM504 146h3v1h-3zM505 147h1v1h-1zM513 139h1v1h-1zM512 140h3v1h-3zM513 141h1v1h-1zM520 79h1v1h-1zM519 80h3v1h-3zM520 81h1v1h-1zM528 82h1v1h-1zM527 83h3v1h-3zM528 84h1v1h-1zM536 147h1v1h-1zM535 148h3v1h-3zM536 149h1v1h-1zM544 131h1v1h-1zM543 132h3v1h-3zM544 133h1v1h-1zM552 170h1v1h-1zM551 171h3v1h-3zM552 172h1v1h-1zM560 175h1v1h-1zM559 176h3v1h-3zM560 177h1v1h-1zM568 193h1v1h-1zM567 194h3v1h-3zM568 195h1v1h-1zM576 185h1v1h-1zM575 186h3v1h-3zM576 187h1v1h-1zM583 170h1v1h-1zM582 171h3v1h-3zM583 172h1v1h-1zM591 169h1v1h-1zM590 170h3v1h-3zM591 171h1v1h-1zM599 158h1v1h-1zM598 159h3v1h-3zM599 160h1v1h-1zM607 163h1v1h-1zM606 164h3v1h-3zM607 165h1v1h-1zM615 149h1v1h-1zM614 150h3v1h-3zM615 151h1v1h-1zM623 153h1v1h-1zM622 154h3v1h-3zM623 155h1v1h-1zM631 164h1v1h-1zM630 165h3v1h-3zM631 166h1v1h-1zM638 216h1v1h-1zM637 217h3v1h-3zM638 218h1v1h-1zM646 217h1v1h-1zM645 218h3v1h-3zM646 219h1v1h-1zM654 205h1v1h-1zM653 206h3v1h-3zM654 207h1v1h-1zM662 196h1v1h-1zM661 197h3v1h-3zM662 198h1v1h-1zM670 188h1v1h-1zM669 189h3v1h-3zM670 190h1v1h-1zM678 155h1v1h-1zM677 156h3v1h-3zM678 157h1v1h-1zM686 163h1v1h-1zM685 164h3v1h-3zM686 165h1v1h-1zM693 140h1v1h-1zM692 141h3v1h-3zM693 142h1v1h-1zM701 137h1v1h-1zM700 138h3v1h-3zM701 139h1v1h-1zM709 77h1v1h-1zM708 78h3v1h-3zM709 79h1v1h-1zM717 89h1v1h-1zM716 90h3v1h-3zM717 91h1v1h-1zM725 118h1v1h-1zM724 119h3v1h-3zM725 120h1v1h-1zM733 186h1v1h-1zM732 187h3v1h-3zM733 188h1v1h-1zM741 182h1v1h-1zM740 183h3v1h-3zM741 184h1v1h-1zM749 189h1v1h-1zM748 190h3v1h-3zM749 191h1v1h-1zM756 184h1v1h-1zM755 185h3v1h-3zM756 186h1v1h-1zM764 172h1v1h-1zM763 173h3v1h-3zM764 174h1v1h-1zM772 151h1v1h-1zM771 152h3v1h-3zM772 153h1v1h-1zM780 126h1v1h-1zM779 127h3v1h-3zM780 128h1v1h-1z"/>
<g stroke="#000000" stroke-width="1" shape-rendering="crispEdges">
<line x1="80.5" y1="60" x2="80.5" y2="321"/>
<line x1="780.5" y1="60" x2="780.5" y2="321"/>
<line x1="80" y1="320.5" x2="781" y2="320.5"/>
<line x1="81" y1="60.5" x2="86" y2="60.5"/>
<line x1="81" y1="70.5" x2="84" y2="70.5"/>
<line x1="81" y1="81.5" x2="84" y2="81.5"/>
<line x1="81" y1="91.5" x2="84" y2="91.5"/>
<line x1="81" y1="102.5" x2="84" y2="102.5"/>
<line x1="81" y1="112.5" x2="86" y2="112.5"/>
<line x1="81" y1="122.5" x2="84" y2="122.5"/>
<line x1="81" y1="133.5" x2="84" y2="133.5"/>
<line x1="81" y1="143.5" x2="84" y2="143.5"/>
<line x1="81" y1="154.5" x2="84" y2="154.5"/>
<line x1="81" y1="164.5" x2="86" y2="164.5"/>
<line x1="81" y1="174.5" x2="84" y2="174.5"/>
<line x1="81" y1="185.5" x2="84" y2="185.5"/>
<line x1="81" y1="195.5" x2="84" y2="195.5"/>
<line x1="81" y1="206.5" x2="84" y2="206.5"/>
<line x1="81" y1="216.5" x2="86" y2="216.5"/>
<line x1="81" y1="226.5" x2="84" y2="226.5"/>
<line x1="81" y1="237.5" x2="84" y2="237.5"/>
<line x1="81" y1="247.5" x2="84" y2="247.5"/>
<line x1="81" y1="258.5" x2="84" y2="258.5"/>
<line x1="81" y1="268.5" x2="86" y2="268.5"/>
<line x1="81" y1="278.5" x2="84" y2="278.5"/>
<line x1="81" y1="289.5" x2="84" y2="289.5"/>
<line x1="81" y1="299.5" x2="84" y2="299.5"/>
<line x1="81" y1="310.5" x2="84" y2="310.5"/>
<line x1="81" y1="320.5" x2="86" y2="320.5"/>
<line x1="774" y1="60.5" x2="780" y2="60.5"/>
<line x1="777" y1="65.5" x2="780" y2="65.5"/>
<line x1="777" y1="69.5" x2="780" y2="69.5"/>
<line x1="777" y1="74.5" x2="780" y2="74.5"/>
<line x1="777" y1="79.5" x2="780" y2="79.5"/>
<line x1="774" y1="84.5" x2="780" y2="84.5"/>
<line x1="777" y1="88.5" x2="780" y2="88.5"/>
<line x1="777" y1="93.5" x2="780" y2="93.5"/>
<line x1="777" y1="98.5" x2="780" y2="98.5"/>
<line x1="777" y1="103.5" x2="780" y2="103.5"/>
<line x1="774" y1="107.5" x2="780" y2="107.5"/>
<line x1="777" y1="112.5" x2="780" y2="112.5"/>
<line x1="777" y1="117.5" x2="780" y2="117.5"/>
<line x1="777" y1="121.5" x2="780" y2="121.5"/>
<line x1="777" y1="126.5" x2="780" y2="126.5"/>
<line x1="774" y1="131.5" x2="780" y2="131.5"/>
<line x1="777" y1="136.5" x2="780" y2="136.5"/>
<line x1="777" y1="140.5" x2="780" y2="140.5"/>
<line x1="777" y1="145.5" x2="780" y2="145.5"/>
<line x1="777" y1="150.5" x2="780" y2="150.5"/>
<line x1="774" y1="155.5" x2="780" y2="155.5"/>
<line x1="777" y1="159.5" x2="780" y2="159.5"/>
<line x1="777" y1="164.5" x2="780" y2="164.5"/>
<line x1="777" y1="169.5" x2="780" y2="169.5"/>
<line x1="777" y1="173.5" x2="780" y2="173.5"/>
<line x1="774" y1="178.5" x2="780" y2="178.5"/>
<line x1="777" y1="183.5" x2="780" y2="183.5"/>
<line x1="777" y1="188.5" x2="780" y2="188.5"/>
<line x1="777" y1="192.5" x2="780" y2="192.5"/>
<line x1="777" y1="197.5" x2="780" y2="197.5"/>
<line x1="774" y1="202.5" x2="780" y2="202.5"/>
<line x1="777" y1="207.5" x2="780" y2="207.5"/>
<line x1="777" y1="211.5" x2="780" y2="211.5"/>
<line x1="777" y1="216.5" x2="780" y2="216.5"/>
<line x1="777" y1="221.5" x2="780" y2="221.5"/>
<line x1="774" y1="225.5" x2="780" y2="225.5"/>
<line x1="777" y1="230.5" x2="780" y2="230.5"/>
<line x1="777" y1="235.5" x2="780" y2="235.5"/>
<line x1="777" y1="240.5" x2="780" y2="240.5"/>
<line x1="777" y1="244.5" x2="780" y2="244.5"/>
<line x1="774" y1="249.5" x2="780" y2="249.5"/>
<line x1="777" y1="254.5" x2="780" y2="254.5"/>
<line x1="777" y1="259.5" x2="780" y2="259.5"/>
<line x1="777" y1="263.5" x2="780" y2="263.5"/>
<line x1="777" y1="268.5" x2="780" y2="268.5"/>
<line x1="774" y1="273.5" x2="780" y2="273.5"/>
<line x1="777" y1="277.5" x2="780" y2="277.5"/>
<line x1="777" y1="282.5" x2="780" y2="282.5"/>
<line x1="777" y1="287.5" x2="780" y2="287.5"/>
<line x1="777" y1="292.5" x2="780" y2="292.5"/>
<line x1="774" y1="296.5" x2="780" y2="296.5"/>
<line x1="777" y1="301.5" x2="780" y2="301.5"/>
<line x1="777" y1="306.5" x2="780" y2="306.5"/>
<line x1="777" y1="311.5" x2="780" y2="311.5"/>
<line x1="777" y1="315.5" x2="780" y2="315.5"/>
<line x1="774" y1="320.5" x2="780" y2="320.5"/>
<line x1="80.5" y1="315" x2="80.5" y2="320"/>
<line x1="111.5" y1="315" x2="111.5" y2="320"/>
<line x1="143.5" y1="315" x2="143.5" y2="320"/>
<line x1="174.5" y1="315" x2="174.5" y2="320"/>
<line x1="206.5" y1="315" x2="206.5" y2="320"/>
<line x1="237.5" y1="315" x2="237.5" y2="320"/>
<line x1="269.5" y1="315" x2="269.5" y2="320"/>
<line x1="300.5" y1="315" x2="300.5" y2="320"/>
<line x1="332.5" y1="315" x2="332.5" y2="320"/>
<line x1="363.5" y1="315" x2="363.5" y2="320"/>
<line x1="395.5" y1="315" x2="395.5" y2="320"/>
<line x1="426.5" y1="315" x2="426.5" y2="320"/>
<line x1="458.5" y1="315" x2="458.5" y2="320"/>
<line x1="489.5" y1="315" x2="489.5" y2="320"/>
<line x1="520.5" y1="315" x2="520.5" y2="320"/>
<line x1="552.5" y1="315" x2="552.5" y2="320"/>
<line x1="583.5" y1="315" x2="583.5" y2="320"/>
<line x1="615.5" y1="315" x2="615.5" y2="320"/>
<line x1="646.5" y1="315" x2="646.5" y2="320"/>
<line x1="678.5" y1="315" x2="678.5" y2="320"/>
<line x1="709.5" y1="315" x2="709.5" y2="320"/>
<line x1="741.5" y1="315" x2="741.5" y2="320"/>
<line x1="772.5" y1="315" x2="772.5" y2="320"/>
</g>
<text class="num" x="72" y="64" text-anchor="end">25000</text>
<text class="num" x="72" y="116" text-anchor="end">20000</text>
<text class="num" x="72" y="168" text-anchor="end">15000</text>
<text class="num" x="72" y="220" text-anchor="end">10000</text>
<text class="num" x="72" y="272" text-anchor="end">5000</text>
<text class="num" x="72" y="324" text-anchor="end">0</text>
<text class="num" x="787.2" y="64.0">1750</text>
<text class="num" x="787.2" y="87.6">1700</text>
<text class="num" x="787.2" y="111.3">1650</text>
<text class="num" x="787.2" y="134.9">1600</text>
<text class="num" x="787.2" y="158.5">1550</text>
<text class="num" x="787.2" y="182.2">1500</text>
<text class="num" x="787.2" y="205.8">1450</text>
<text class="num" x="787.2" y="229.5">1400</text>
<text class="num" x="787.2" y="253.1">1350</text>
<text class="num" x="787.2" y="276.7">1300</text>
<text class="num" x="787.2" y="300.4">1250</text>
<text class="num" x="787.2" y="324.0">1200</text>
<text class="xl" transform="translate(84.1,323.5) rotate(-90)" text-anchor="end">2024-3-22</text>
<text class="xl" transform="translate(115.1,323.5) rotate(-90)" text-anchor="end">2024-4-19</text>
<text class="xl" transform="translate(147.1,323.5) rotate(-90)" text-anchor="end">2024-5-17</text>
<text class="xl" transform="translate(178.1,323.5) rotate(-90)" text-anchor="end">2024-6-14</text>
<text class="xl" transform="translate(210.1,323.5) rotate(-90)" text-anchor="end">2024-7-12</text>
<text class="xl" transform="translate(241.1,323.5) rotate(-90)" text-anchor="end">2024-8-9</text>
<text class="xl" transform="translate(273.1,323.5) rotate(-90)" text-anchor="end">2024-9-13</text>
<text class="xl" transform="translate(304.1,323.8) rotate(-90)" text-anchor="end">2024-10-11</text>
<text class="xl" transform="translate(336.1,323.5) rotate(-90)" text-anchor="end">2024-11-8</text>
<text class="xl" transform="translate(367.1,323.5) rotate(-90)" text-anchor="end">2024-12-6</text>
<text class="xl" transform="translate(399.1,323.5) rotate(-90)" text-anchor="end">2025-1-10</text>
<text class="xl" transform="translate(430.1,323.5) rotate(-90)" text-anchor="end">2025-2-7</text>
<text class="xl" transform="translate(462.1,323.5) rotate(-90)" text-anchor="end">2025-3-7</text>
<text class="xl" transform="translate(493.1,323.5) rotate(-90)" text-anchor="end">2025-4-4</text>
<text class="xl" transform="translate(524.1,323.5) rotate(-90)" text-anchor="end">2025-5-2</text>
<text class="xl" transform="translate(556.1,323.5) rotate(-90)" text-anchor="end">2025-5-30</text>
<text class="xl" transform="translate(587.1,323.5) rotate(-90)" text-anchor="end">2025-7-4</text>
<text class="xl" transform="translate(619.1,322.8) rotate(-90)" text-anchor="end">2025-8-1</text>
<text class="xl" transform="translate(650.1,323.5) rotate(-90)" text-anchor="end">2025-8-29</text>
<text class="xl" transform="translate(682.1,323.5) rotate(-90)" text-anchor="end">2025-9-26</text>
<text class="xl" transform="translate(713.1,323.8) rotate(-90)" text-anchor="end">2025-10-31</text>
<text class="xl" transform="translate(745.1,324.5) rotate(-90)" text-anchor="end">2025-11-28</text>
<text class="xl" transform="translate(776.1,324.5) rotate(-90)" text-anchor="end">2025-12-26</text>
<text class="jp" x="450" y="34.7" font-size="17px" text-anchor="middle">川辺の信用買残と株価の推移</text>
<text class="jp" x="20" y="43" font-size="15px">信用買残</text>
<text class="jp" x="779.5" y="43" font-size="15px">株価</text>
<rect x="799.5" y="339.5" width="92" height="42" fill="#f5f5f5" stroke="#888888" stroke-width="1" shape-rendering="crispEdges"/>
<line x1="804" y1="351.5" x2="821" y2="351.5" stroke="#ff0000" stroke-width="1" shape-rendering="crispEdges"/>
<path d="M811.2 347.3L813.8 347.3L816.8 350.3L816.8 352.7L813.8 355.7L811.2 355.7L808.2 352.7L808.2 350.3Z" fill="#ff0000" stroke="#000" stroke-width="1.1" stroke-linejoin="round"/>
<line x1="804" y1="370.5" x2="821" y2="370.5" stroke="#0000ff" stroke-width="2" shape-rendering="crispEdges"/>
<text class="jp" x="829.7" y="356" font-size="13px">信用買残</text>
<text class="jp" x="829.7" y="375" font-size="13px">株価</text>
</svg></body></html>
